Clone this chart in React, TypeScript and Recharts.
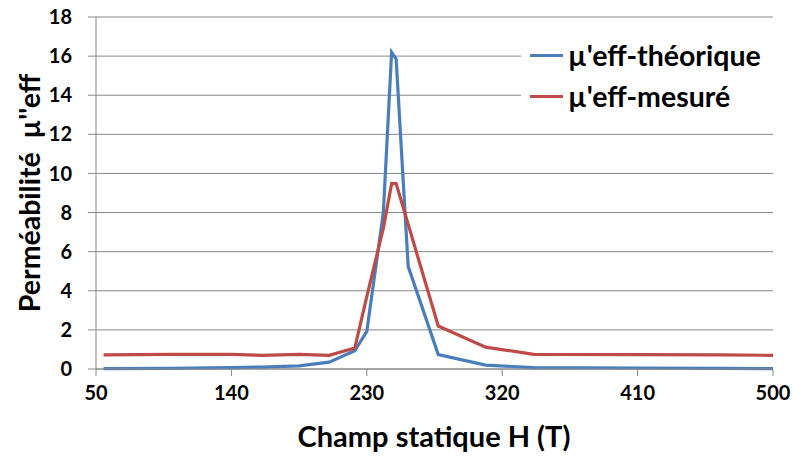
import { CartesianGrid, Legend, Line, LineChart, XAxis, YAxis } from "recharts";

const fieldH = [55, 100, 140, 160, 185, 205, 222, 230, 241, 246.5, 249.5, 257.5, 277.5, 309, 341, 410, 465, 500];
const muTheorique = [0.02, 0.03, 0.07, 0.1, 0.16, 0.35, 0.93, 1.92, 8.0, 16.2, 15.85, 5.25, 0.74, 0.2, 0.07, 0.05, 0.03, 0.02];
const muMesure = [0.72, 0.75, 0.75, 0.7, 0.75, 0.7, 1.07, 3.7, 7.2, 9.48, 9.48, 7.4, 2.2, 1.12, 0.75, 0.73, 0.72, 0.7];
const xTicks = [50, 140, 230, 320, 410, 500];
const yTicks = [0, 2, 4, 6, 8, 10, 12, 14, 16, 18];

const BLUE = "#4A7EBB";
const RED = "#BE4B48";
const GRID = "#888888";
const FONT = "Lato, 'Open Sans', sans-serif";

const data = fieldH.map((h, i) => ({ h, theo: muTheorique[i], mes: muMesure[i] }));

const series = [
  { key: "theo", name: "µ'eff-théorique", color: BLUE },
  { key: "mes", name: "µ'eff-mesuré", color: RED },
];

function LegendBox() {
  return (
    <div style={{ background: "#fff", width: 269, height: 86, fontFamily: FONT }}>
      {series.map((s, i) => (
        <div
          key={s.key}
          style={{
            position: "absolute",
            left: 9,
            top: i === 0 ? 10 : 51,
            height: 30,
            display: "flex",
            alignItems: "center",
          }}
        >
          <span style={{ width: 33, height: 3, background: s.color, display: "inline-block" }} />
          <span style={{ marginLeft: 5, fontSize: 28.5, fontWeight: 700, color: "#000", lineHeight: "30px" }}>
            {s.name}
          </span>
        </div>
      ))}
    </div>
  );
}

export default function App() {
  return (
    <div style={{ position: "absolute", left: 0, top: 0, background: "#fff" }}>
      <LineChart width={794} height={457} data={data} margin={{ top: 17, right: 21, bottom: 58, left: 0 }}>
        <CartesianGrid vertical={false} stroke={GRID} strokeWidth={1} />
        <XAxis
          dataKey="h"
          type="number"
          domain={[50, 500]}
          ticks={xTicks}
          interval={0}
          height={30}
          stroke={GRID}
          tickSize={7}
          tick={{ fill: "#000", fontSize: 20, fontWeight: 700, fontFamily: FONT }}
          tickMargin={10}
          label={() => (
            <text x={434} y={447} textAnchor="middle" fontSize={29} fontWeight={700} fontFamily={FONT} fill="#000">
              Champ statique H (T)
            </text>
          )}
        />
        <YAxis
          domain={[0, 18]}
          ticks={yTicks}
          interval={0}
          width={96}
          stroke={GRID}
          tickSize={8}
          tick={{ fill: "#000", fontSize: 20, fontWeight: 700, fontFamily: FONT }}
          tickMargin={16}
          label={() => (
            <text
              x={40}
              y={193}
              transform="rotate(-90 40 193)"
              textAnchor="middle"
              fontSize={28.5}
              fontWeight={700}
              fontFamily={FONT}
              fill="#000"
              style={{ whiteSpace: "pre" }}
            >
              {"Perméabilité  µ''eff"}
            </text>
          )}
        />
        <Legend
          verticalAlign="middle"
          content={<LegendBox />}
          wrapperStyle={{ left: 521, top: 30, width: 269, height: 86 }}
        />
        {series.map((s) => (
          <Line
            key={s.key}
            dataKey={s.key}
            name={s.name}
            type="linear"
            stroke={s.color}
            strokeWidth={3.2}
            dot={false}
            isAnimationActive={false}
          />
        ))}
      </LineChart>
    </div>
  );
}
